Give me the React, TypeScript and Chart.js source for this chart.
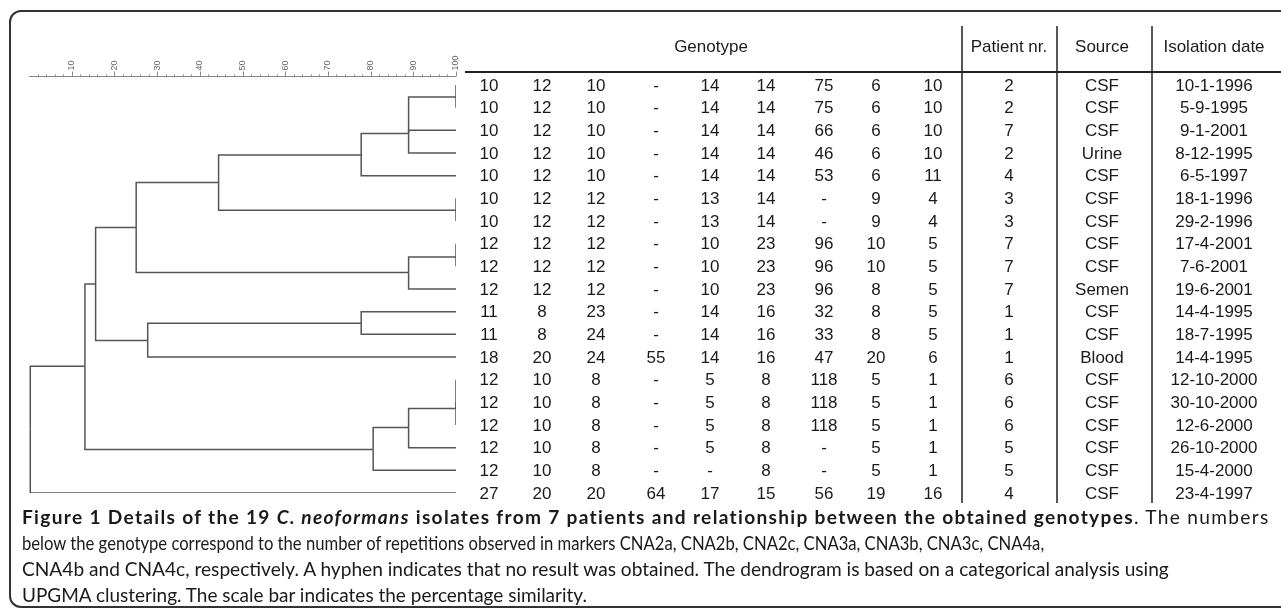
import React, { useEffect, useRef, useMemo } from 'react';
import { Chart, registerables } from 'chart.js';

Chart.register(...registerables);

// ---- Table data (19 isolates) ----
const CNA2a = ['10','10','10','10','10','10','10','12','12','12','11','11','18','12','12','12','12','12','27'];
const CNA2b = ['12','12','12','12','12','12','12','12','12','12','8','8','20','10','10','10','10','10','20'];
const CNA2c = ['10','10','10','10','10','12','12','12','12','12','23','24','24','8','8','8','8','8','20'];
const CNA3a = ['-','-','-','-','-','-','-','-','-','-','-','-','55','-','-','-','-','-','64'];
const CNA3b = ['14','14','14','14','14','13','13','10','10','10','14','14','14','5','5','5','5','-','17'];
const CNA3c = ['14','14','14','14','14','14','14','23','23','23','16','16','16','8','8','8','8','8','15'];
const CNA4a = ['75','75','66','46','53','-','-','96','96','96','32','33','47','118','118','118','-','-','56'];
const CNA4b = ['6','6','6','6','6','9','9','10','10','8','8','8','20','5','5','5','5','5','19'];
const CNA4c = ['10','10','10','10','11','4','4','5','5','5','5','5','6','1','1','1','1','1','16'];
const patients = ['2','2','7','2','4','3','3','7','7','7','1','1','1','6','6','6','5','5','4'];
const sources = ['CSF','CSF','CSF','Urine','CSF','CSF','CSF','CSF','CSF','Semen','CSF','CSF','Blood','CSF','CSF','CSF','CSF','CSF','CSF'];
const dates = ['10-1-1996','5-9-1995','9-1-2001','8-12-1995','6-5-1997','18-1-1996','29-2-1996','17-4-2001','7-6-2001','19-6-2001','14-4-1995','18-7-1995','14-4-1995','12-10-2000','30-10-2000','12-6-2000','26-10-2000','15-4-2000','23-4-1997'];

const headers = ['Genotype', 'Patient nr.', 'Source', 'Isolation date'];

// ---- Dendrogram (UPGMA) : internal nodes 101..116, leaves 1..19 ----
const nodeIds = [101,102,103,104,105,106,107,108,109,110,111,112,113,114,115,116];
const nodeSimilarity = [100, 88.9, 77.8, 100, 44.4, 100, 88.9, 25.1, 77.8, 27.8, 15.6, 100, 88.9, 80.6, 13.1, 0.3];
const nodeChildren = [[1,2],[101,3,4],[102,5],[6,7],[103,104],[8,9],[106,10],[105,107],[11,12],[109,13],[108,110],[14,15,16],[112,17],[113,18],[111,114],[115,19]];
const nodeRow = [1.53, 3.14, 4.09, 6.53, 5.3, 8.59, 9.27, 7.29, 11.51, 12.27, 9.78, 15.27, 16.11, 17.08, 13.41, 16.2];

// scale bar ticks
const scaleMinorStep = 2;
const scaleLabels = [10, 20, 30, 40, 50, 60, 70, 80, 90, 100];

// ---- caption text ----
const capBold1 = 'Figure 1 Details of the 19 ';
const capItalic = 'C. neoformans';
const capBold2 = ' isolates from 7 patients and relationship between the obtained genotypes';
const capRest = '. The numbers';
const captionLines = [
  'below the genotype correspond to the number of repetitions observed in markers CNA2a, CNA2b, CNA2c, CNA3a, CNA3b, CNA3c, CNA4a,',
  'CNA4b and CNA4c, respectively. A hyphen indicates that no result was obtained. The dendrogram is based on a categorical analysis using',
  'UPGMA clustering. The scale bar indicates the percentage similarity.',
];

// ---- layout (pixels) ----
const W = 1281;
const H = 609;
const ROW_TOP = 85;
const ROW_BOTTOM = 493;
const genoColX = [489, 542, 596, 656, 710, 766, 824, 876, 933];
const patientX = 1009;
const sourceX = 1102;
const dateX = 1214;
const sepX = [962, 1057, 1152];
const TABLE_FONT = '17px "Liberation Sans", Arial, sans-serif';
const captionTargets = [1250, 1024, 1150, 567];

function simOf(id: number) {
  const i = nodeIds.indexOf(id);
  return i < 0 ? 100 : nodeSimilarity[i];
}
function rowOf(id: number) {
  const i = nodeIds.indexOf(id);
  return i < 0 ? id : nodeRow[i];
}

const tablePlugin = {
  id: 'tableAndScale',
  afterDraw(chart: any) {
    const ctx = chart.ctx as CanvasRenderingContext2D;
    const xs = chart.scales.x;
    const ys = chart.scales.y;
    const axisY = Math.round(ys.getPixelForValue(1)) - 9 + 0.5;
    ctx.save();

    // scale bar
    ctx.strokeStyle = '#8a8a8a';
    ctx.lineWidth = 1;
    ctx.beginPath();
    ctx.moveTo(xs.getPixelForValue(0), axisY);
    ctx.lineTo(xs.getPixelForValue(100), axisY);
    for (let v = scaleMinorStep; v <= 100; v += scaleMinorStep) {
      const px = Math.round(xs.getPixelForValue(v)) + 0.5;
      const major = scaleLabels.indexOf(v) >= 0;
      ctx.moveTo(px, axisY);
      ctx.lineTo(px, axisY - (major ? 5 : 2));
    }
    ctx.stroke();
    ctx.fillStyle = '#666';
    ctx.font = '9px "Liberation Sans", Arial, sans-serif';
    ctx.textAlign = 'left';
    ctx.textBaseline = 'middle';
    scaleLabels.forEach((v) => {
      const px = xs.getPixelForValue(v);
      ctx.save();
      ctx.translate(px, axisY - 6);
      ctx.rotate(-Math.PI / 2);
      ctx.fillText(String(v), 0, 0);
      ctx.restore();
    });

    // table lines
    ctx.strokeStyle = '#222';
    ctx.lineWidth = 2;
    ctx.beginPath();
    ctx.moveTo(465, 72);
    ctx.lineTo(W, 72);
    ctx.stroke();
    ctx.lineWidth = 1.5;
    const lastY = ys.getPixelForValue(19);
    ctx.beginPath();
    sepX.forEach((x) => {
      ctx.moveTo(x, 26);
      ctx.lineTo(x, lastY + 10);
    });
    ctx.stroke();

    // headers
    ctx.fillStyle = '#1a1a1a';
    ctx.font = TABLE_FONT;
    ctx.textAlign = 'center';
    ctx.textBaseline = 'middle';
    const hy = 47;
    ctx.fillText(headers[0], 711, hy);
    ctx.fillText(headers[1], patientX, hy);
    ctx.fillText(headers[2], sourceX, hy);
    ctx.fillText(headers[3], dateX, hy);

    const cols = [CNA2a, CNA2b, CNA2c, CNA3a, CNA3b, CNA3c, CNA4a, CNA4b, CNA4c];
    for (let r = 0; r < 19; r++) {
      const y = ys.getPixelForValue(r + 1) + 1;
      cols.forEach((col, ci) => ctx.fillText(col[r], genoColX[ci], y));
      ctx.fillText(patients[r], patientX, y);
      ctx.fillText(sources[r], sourceX, y);
      ctx.fillText(dates[r], dateX, y);
    }
    ctx.restore();
  },
};

export default function App() {
  const ref = useRef<HTMLCanvasElement | null>(null);

  const cap = useMemo(() => {
    const c = document.createElement('canvas').getContext('2d');
    if (!c) return { size: 17.5, spacing0: 0, scale: [1, 1, 1] };
    const m = (t: string, style: string) => {
      c.font = `${style} 100px Lato`;
      return c.measureText(t).width;
    };
    const size = (1150 / m(captionLines[1], 'normal')) * 100;
    const k = size / 100;
    const l1 = (m(capBold1, 'bold') + m(capItalic, 'italic bold') + m(capBold2, 'bold') + m(capRest, 'normal')) * k;
    const n1 = (capBold1 + capItalic + capBold2 + capRest).length;
    const spacing0 = (captionTargets[0] - l1) / n1;
    const scale = captionLines.map((l, i) => captionTargets[i + 1] / (m(l, 'normal') * k));
    return { size, spacing0, scale };
  }, []);

  useEffect(() => {
    if (!ref.current) return;
    const datasets: any[] = [];
    nodeIds.forEach((id, i) => {
      const sim = nodeSimilarity[i];
      const exitRow = nodeRow[i];
      nodeChildren[i].forEach((c) => {
        const cx = simOf(c);
        const cy = rowOf(c);
        datasets.push({
          data: [
            { x: cx, y: cy },
            { x: sim, y: cy },
            { x: sim, y: exitRow },
          ],
          showLine: true,
          borderColor: '#555',
          borderWidth: 1.5,
          pointRadius: 0,
          fill: false,
        });
      });
    });
    const chart = new Chart(ref.current, {
      type: 'scatter',
      data: { datasets },
      options: {
        animation: false,
        responsive: false,
        maintainAspectRatio: false,
        layout: { padding: { left: 29, right: W - 456, top: ROW_TOP, bottom: H - ROW_BOTTOM } },
        scales: {
          x: { type: 'linear', min: 0, max: 100, display: false },
          y: { type: 'linear', min: 1, max: 19, reverse: true, display: false },
        },
        plugins: { legend: { display: false }, tooltip: { enabled: false } },
        elements: { line: { tension: 0 } },
      },
      plugins: [tablePlugin],
    } as any);
    return () => chart.destroy();
  }, []);

  const capStyle: React.CSSProperties = {
    fontFamily: 'Lato, "Open Sans", sans-serif',
    fontSize: cap.size + 'px',
    lineHeight: '26px',
    color: '#1a1a1a',
    whiteSpace: 'nowrap',
  };

  return (
    <div style={{ position: 'fixed', left: 0, top: 0, width: W, height: H, background: '#fff', overflow: 'hidden' }}>
      <div
        style={{
          position: 'absolute', left: 9, top: 10, width: 1400, height: 594,
          border: '2px solid #333', borderRadius: 12, boxSizing: 'content-box',
        }}
      />
      <canvas ref={ref} width={W} height={H} style={{ position: 'absolute', left: 0, top: 0, width: W, height: H }} />
      <div style={{ position: 'absolute', left: 22, top: 504, ...capStyle }}>
        <div style={{ letterSpacing: cap.spacing0 + 'px' }}>
          <b>{capBold1}<i>{capItalic}</i>{capBold2}</b>{capRest}
        </div>
        {captionLines.map((l, i) => (
          <div key={i} style={{ transform: `scaleX(${cap.scale[i]})`, transformOrigin: 'left center' }}>{l}</div>
        ))}
      </div>
    </div>
  );
}
